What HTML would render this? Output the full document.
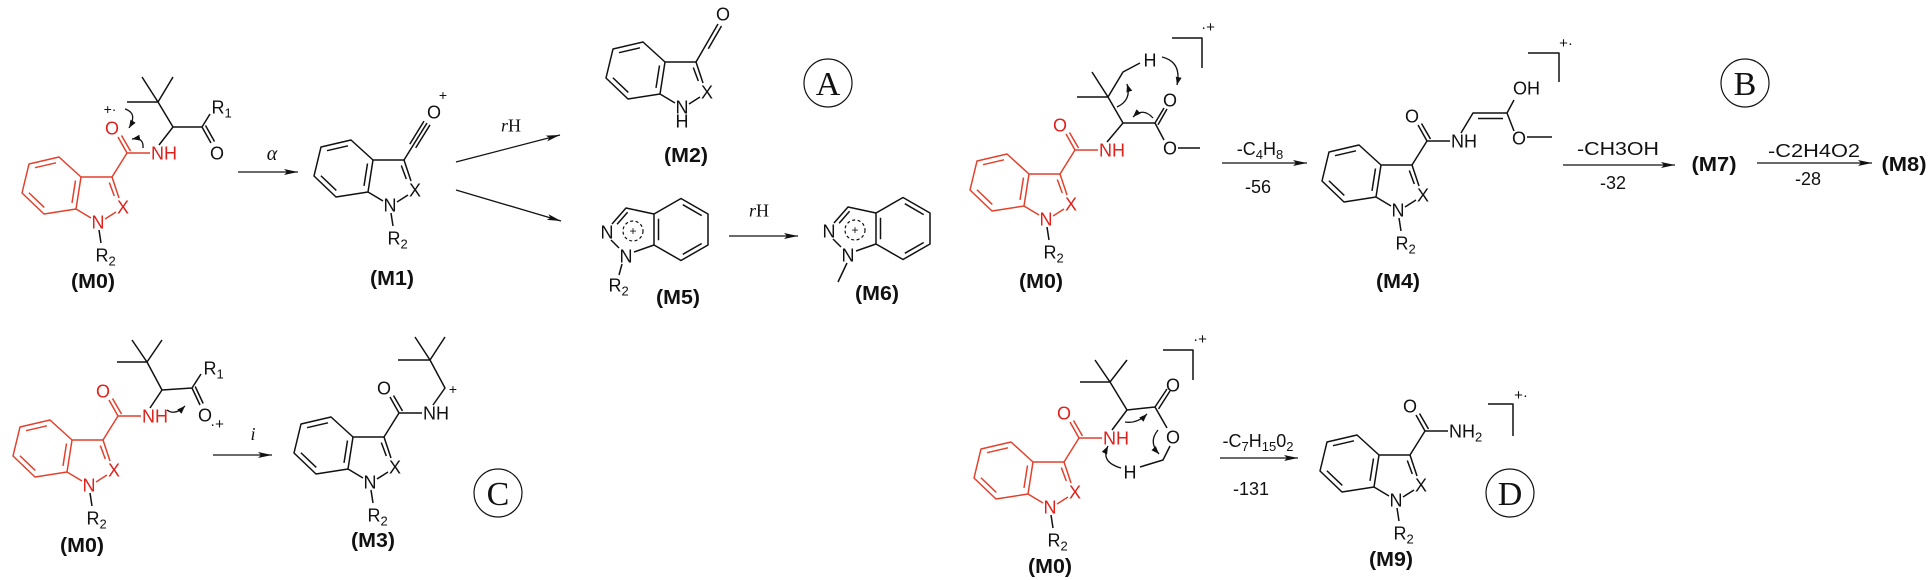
<!DOCTYPE html>
<html><head><meta charset="utf-8">
<style>
html,body{margin:0;padding:0;background:#fff;}
svg{display:block;}
.t{font-family:"Liberation Sans",Arial,sans-serif;font-size:18px;text-anchor:middle;fill:#111;}
.st{text-anchor:start;}
.r{fill:#e0201b;}
.b{font-weight:bold;font-size:20px;}
.s{font-family:"Liberation Serif","Times New Roman",serif;}
.ln{fill:none;stroke:#111;stroke-width:1.5;stroke-linejoin:round;}
.rl{fill:none;stroke:#e2412d;stroke-width:1.5;stroke-linejoin:round;}
.ar{fill:none;stroke:#111;stroke-width:1.3;}
</style></head>
<body>
<svg width="1932" height="580" viewBox="0 0 1932 580" xmlns="http://www.w3.org/2000/svg">
<defs>
<marker id="ah" viewBox="0 0 14 6" refX="14" refY="3" markerWidth="14" markerHeight="6" orient="auto" markerUnits="userSpaceOnUse"><path d="M0,0 L14,3 L0,6 L3,3 Z" fill="#111"/></marker>
<marker id="ch" viewBox="0 0 8 6" refX="8" refY="3" markerWidth="8" markerHeight="6" orient="auto" markerUnits="userSpaceOnUse"><path d="M0,0 L8,3 L0,6 Z" fill="#111"/></marker>
<g id="core"><path d="M0,0 L-22,-20 L-52,-13 L-59,16 L-37,37 L-5,32 Z M-25,-14.2 L-46,-9.3 M-52.1,15.75 L-36.7,30.45 M-9,25.9 L-5.5,3.5 M0,0 L31,0 L38,21 M28.3,5.5 L33.3,19 M-5,32 L10,41 M24,42 L35,35"/></g>
<g id="amide"><path d="M31,0 L46,-24 L37,-40 M49.5,-26 L40.5,-41.5 M46,-24 L69,-24"/></g>
<g id="nr"><path d="M18,53 L20,66"/></g>
<g id="pyr"><path d="M654,214 L681,198.5 L708,214 L708,245 L681,260.5 L654,245 Z M682.8,204.7 L701.7,215.6 M701.7,243.5 L682.8,254.3 M658.5,218.7 L658.5,240.3 M654,214 L626,208 L612,224 M627.6,212.2 L617.1,224.2 M654,245 L634,252 M611,240 L619,248"/><circle cx="633" cy="231" r="10" stroke-dasharray="3,2.5" stroke-width="1.2"/></g>
</defs>

<!-- ===== Panel A ===== -->
<use href="#core" class="rl" transform="translate(81,177)"/>
<use href="#amide" class="rl" transform="translate(81,177)"/>
<use href="#nr" class="ln" transform="translate(81,177)"/>
<path class="ln" d="M159,145 L173,127 L158,102 L127,102 M158,102 L142,77 M158,102 L173,77 M173,127 L202,127 L210,114 M202,127 L211,143 M205.5,125.5 L214.5,141.5"/>
<text class="t r" x="98" y="228.5">N</text>
<text class="t r" x="123" y="213.5">X</text>
<text class="t st" x="95.5" y="261.5">R<tspan font-size="13" dy="4">2</tspan></text>
<text class="t r" x="112" y="134.5">O</text>
<text class="t r st" x="151" y="159.5">NH</text>
<text class="t st" x="211.5" y="113.5">R<tspan font-size="13" dy="4">1</tspan></text>
<text class="t" x="217" y="159.5">O</text>
<text class="t" x="110" y="114" style="font-size:14px">+·</text>
<path class="ar" d="M125,109 Q138,113 129,128" marker-end="url(#ch)"/>
<path class="ar" d="M143,148 Q144,137 132,139" marker-end="url(#ch)"/>
<text class="t b" x="93" y="288" textLength="44" lengthAdjust="spacingAndGlyphs">(M0)</text>

<line class="ar" x1="238" y1="172" x2="298" y2="172" marker-end="url(#ah)"/>
<text class="t s" x="272" y="160" style="font-size:20px" font-style="italic">α</text>

<!-- M1 -->
<use href="#core" class="ln" transform="translate(373,160)"/>
<use href="#nr" class="ln" transform="translate(373,160)"/>
<path class="ln" d="M404,160 L427,123 M415.7,147.9 L430,124.9 M409.8,144.1 L424,121.1"/>
<text class="t" x="390" y="211.5">N</text>
<text class="t" x="415" y="196.5">X</text>
<text class="t st" x="387.5" y="244.5">R<tspan font-size="13" dy="4">2</tspan></text>
<text class="t" x="434" y="118.5">O</text>
<text class="t" x="443" y="100" style="font-size:14px">+</text>
<text class="t b" x="392" y="285" textLength="44" lengthAdjust="spacingAndGlyphs">(M1)</text>

<line class="ar" x1="456" y1="162" x2="560" y2="135" marker-end="url(#ah)"/>
<line class="ar" x1="456" y1="190" x2="561" y2="221" marker-end="url(#ah)"/>
<text class="t s" x="511" y="131.5" style="font-size:18px"><tspan font-style="italic">r</tspan>H</text>

<!-- M2 -->
<use href="#core" class="ln" transform="translate(665,62)"/>
<path class="ln" d="M696,62 L718,24 M708.3,48.8 L721.5,26"/>
<text class="t" x="682" y="113.5">N</text>
<text class="t" x="682" y="127.5">H</text>
<text class="t" x="707" y="98.5">X</text>
<text class="t" x="723" y="20.5">O</text>
<text class="t b" x="686" y="162" textLength="44" lengthAdjust="spacingAndGlyphs">(M2)</text>

<!-- M5 -->
<use href="#pyr" class="ln"/>
<path class="ln" d="M622,264 L619,275"/>
<text class="t" x="607" y="238.5">N</text>
<text class="t" x="626" y="262.5">N</text>
<text class="t" x="633" y="235" style="font-size:12px">+</text>
<text class="t st" x="608.5" y="291.5">R<tspan font-size="13" dy="4">2</tspan></text>
<text class="t b" x="678" y="304" textLength="44" lengthAdjust="spacingAndGlyphs">(M5)</text>

<line class="ar" x1="729" y1="236" x2="798" y2="236" marker-end="url(#ah)"/>
<text class="t s" x="759" y="216.5" style="font-size:18px"><tspan font-style="italic">r</tspan>H</text>

<!-- M6 -->
<use href="#pyr" class="ln" transform="translate(222,-1)"/>
<path class="ln" d="M847,263 L838,282"/>
<text class="t" x="829" y="237.5">N</text>
<text class="t" x="848" y="261.5">N</text>
<text class="t" x="855" y="234" style="font-size:12px">+</text>
<text class="t b" x="877" y="300" textLength="44" lengthAdjust="spacingAndGlyphs">(M6)</text>

<circle cx="828" cy="83" r="24" fill="none" stroke="#111" stroke-width="1.2"/>
<text class="t s" x="828" y="95" style="font-size:34px">A</text>

<!-- ===== Panel B ===== -->
<use href="#core" class="rl" transform="translate(1029,174)"/>
<use href="#amide" class="rl" transform="translate(1029,174)"/>
<use href="#nr" class="ln" transform="translate(1029,174)"/>
<path class="ln" d="M1107,142 L1123,123 L1108,97 L1077,97 M1108,97 L1092,72 M1108,97 L1123,72 L1140,63 M1123,123 L1155,123 L1164,108 M1158,124.7 L1167,109 M1155,123 L1164,140 M1178,148 L1200,148"/>
<text class="t r" x="1046" y="225.5">N</text>
<text class="t r" x="1071" y="210.5">X</text>
<text class="t st" x="1043.5" y="258.5">R<tspan font-size="13" dy="4">2</tspan></text>
<text class="t r" x="1060" y="131.5">O</text>
<text class="t r st" x="1099" y="156.5">NH</text>
<text class="t" x="1150" y="66.5">H</text>
<text class="t" x="1170" y="106.5">O</text>
<text class="t" x="1170" y="154.5">O</text>
<path class="ar" d="M1117,107 Q1132,100 1127,84" marker-end="url(#ch)"/>
<path class="ar" d="M1153,118 Q1143,107 1133,117" marker-end="url(#ch)"/>
<path class="ar" d="M1162,57 Q1182,62 1177,85" marker-end="url(#ch)"/>
<path class="ln" d="M1172,38 H1202 V68"/>
<text class="t" x="1208" y="32" style="font-size:15px">·+</text>
<text class="t b" x="1041" y="288" textLength="44" lengthAdjust="spacingAndGlyphs">(M0)</text>

<line class="ar" x1="1222" y1="163" x2="1307" y2="163" marker-end="url(#ah)"/>
<text class="t" x="1260" y="155">-C<tspan font-size="13" dy="4">4</tspan><tspan dy="-4">H</tspan><tspan font-size="13" dy="4">8</tspan></text>
<text class="t" x="1258" y="193">-56</text>

<!-- M4 -->
<use href="#core" class="ln" transform="translate(1381,165)"/>
<use href="#amide" class="ln" transform="translate(1381,165)"/>
<use href="#nr" class="ln" transform="translate(1381,165)"/>
<path class="ln" d="M1461,133 L1473,113 L1507,113 L1514,100 M1478,118.5 L1503,118.5 M1507,113 L1514,131 M1527,137 L1552,137"/>
<text class="t" x="1398" y="216.5">N</text>
<text class="t" x="1423" y="201.5">X</text>
<text class="t st" x="1395.5" y="249.5">R<tspan font-size="13" dy="4">2</tspan></text>
<text class="t" x="1412" y="122.5">O</text>
<text class="t st" x="1451" y="147.5">NH</text>
<text class="t st" x="1513" y="94.5">OH</text>
<text class="t" x="1519" y="144.5">O</text>
<path class="ln" d="M1528,53 H1559 V82"/>
<text class="t" x="1566" y="48" style="font-size:15px">+·</text>
<text class="t b" x="1398" y="288" textLength="44" lengthAdjust="spacingAndGlyphs">(M4)</text>

<line class="ar" x1="1563" y1="165" x2="1675" y2="165" marker-end="url(#ah)"/>
<text class="t" x="1618" y="155" textLength="82" lengthAdjust="spacingAndGlyphs">-CH3OH</text>
<text class="t" x="1613" y="189">-32</text>
<text class="t b" x="1714" y="171" textLength="45" lengthAdjust="spacingAndGlyphs">(M7)</text>
<line class="ar" x1="1757" y1="163" x2="1872" y2="163" marker-end="url(#ah)"/>
<text class="t" x="1814" y="157" textLength="92" lengthAdjust="spacingAndGlyphs">-C2H4O2</text>
<text class="t" x="1808" y="185">-28</text>
<text class="t b" x="1904" y="171" textLength="45" lengthAdjust="spacingAndGlyphs">(M8)</text>

<circle cx="1745" cy="83" r="24" fill="none" stroke="#111" stroke-width="1.2"/>
<text class="t s" x="1745" y="95" style="font-size:34px">B</text>

<!-- ===== Panel C ===== -->
<use href="#core" class="rl" transform="translate(72,440)"/>
<use href="#amide" class="rl" transform="translate(72,440)"/>
<use href="#nr" class="ln" transform="translate(72,440)"/>
<path class="ln" d="M150,408 L162,390 L147,362 L117,362 M147,362 L132,340 M147,362 L162,340 M162,390 L192,388 L201,374 M192,388 L200,405 M195.2,386.5 L203.2,403.5"/>
<text class="t r" x="89" y="491.5">N</text>
<text class="t r" x="114" y="476.5">X</text>
<text class="t st" x="86.5" y="524.5">R<tspan font-size="13" dy="4">2</tspan></text>
<text class="t r" x="103" y="397.5">O</text>
<text class="t r st" x="142" y="422.5">NH</text>
<text class="t st" x="203.5" y="374.5">R<tspan font-size="13" dy="4">1</tspan></text>
<text class="t" x="205" y="421.5">O</text>
<text class="t" x="217" y="429" style="font-size:15px">·+</text>
<path class="ar" d="M167,410 Q175,416 185,406" marker-end="url(#ch)"/>
<text class="t b" x="82" y="552" textLength="44" lengthAdjust="spacingAndGlyphs">(M0)</text>

<line class="ar" x1="213" y1="455" x2="272" y2="455" marker-end="url(#ah)"/>
<text class="t s" x="253" y="440" style="font-size:18px" font-style="italic">i</text>

<!-- M3 -->
<use href="#core" class="ln" transform="translate(353,437)"/>
<use href="#amide" class="ln" transform="translate(353,437)"/>
<use href="#nr" class="ln" transform="translate(353,437)"/>
<path class="ln" d="M433,405 L445,388 L430,360 L398,360 M430,360 L415,337 M430,360 L445,337"/>
<text class="t" x="370" y="488.5">N</text>
<text class="t" x="395" y="473.5">X</text>
<text class="t st" x="367.5" y="521.5">R<tspan font-size="13" dy="4">2</tspan></text>
<text class="t" x="384" y="394.5">O</text>
<text class="t st" x="423" y="419.5">NH</text>
<text class="t" x="453" y="394" style="font-size:14px">+</text>
<text class="t b" x="373" y="547" textLength="44" lengthAdjust="spacingAndGlyphs">(M3)</text>

<circle cx="498" cy="493" r="24" fill="none" stroke="#111" stroke-width="1.2"/>
<text class="t s" x="498" y="505" style="font-size:34px">C</text>

<!-- ===== Panel D ===== -->
<use href="#core" class="rl" transform="translate(1033,462)"/>
<use href="#amide" class="rl" transform="translate(1033,462)"/>
<use href="#nr" class="ln" transform="translate(1033,462)"/>
<path class="ln" d="M1112,430 L1127,410 L1110,382 L1080,382 M1110,382 L1095,360 M1110,382 L1127,360 M1127,410 L1155,407 L1167,389 M1158.5,409 L1170,391 M1155,407 L1167,428 M1170,446 L1163,460 L1140,467"/>
<text class="t r" x="1050" y="513.5">N</text>
<text class="t r" x="1075" y="498.5">X</text>
<text class="t st" x="1047.5" y="546.5">R<tspan font-size="13" dy="4">2</tspan></text>
<text class="t r" x="1064" y="419.5">O</text>
<text class="t r st" x="1103" y="444.5">NH</text>
<text class="t" x="1173" y="391.5">O</text>
<text class="t" x="1173" y="443.5">O</text>
<text class="t" x="1130" y="478.5">H</text>
<path class="ar" d="M1121,468 Q1100,462 1108,446" marker-end="url(#ch)"/>
<path class="ar" d="M1125,422 Q1137,424 1147,414" marker-end="url(#ch)"/>
<path class="ar" d="M1158,430 Q1148,442 1159,454" marker-end="url(#ch)"/>
<path class="ln" d="M1163,350 H1193 V380"/>
<text class="t" x="1200" y="344" style="font-size:15px">·+</text>
<text class="t b" x="1050" y="573" textLength="44" lengthAdjust="spacingAndGlyphs">(M0)</text>

<line class="ar" x1="1220" y1="458" x2="1298" y2="458" marker-end="url(#ah)"/>
<text class="t" x="1258" y="447">-C<tspan font-size="13" dy="4">7</tspan><tspan dy="-4">H</tspan><tspan font-size="13" dy="4">15</tspan><tspan dy="-4">0</tspan><tspan font-size="13" dy="4">2</tspan></text>
<text class="t" x="1251" y="495">-131</text>

<!-- M9 -->
<use href="#core" class="ln" transform="translate(1379,455)"/>
<use href="#amide" class="ln" transform="translate(1379,455)"/>
<use href="#nr" class="ln" transform="translate(1379,455)"/>
<text class="t" x="1396" y="506.5">N</text>
<text class="t" x="1421" y="491.5">X</text>
<text class="t st" x="1393.5" y="539.5">R<tspan font-size="13" dy="4">2</tspan></text>
<text class="t" x="1410" y="412.5">O</text>
<text class="t st" x="1449" y="437.5">NH<tspan font-size="13" dy="4">2</tspan></text>
<path class="ln" d="M1488,404 H1513 V436"/>
<text class="t" x="1521" y="400" style="font-size:15px">+·</text>
<text class="t b" x="1391" y="566" textLength="44" lengthAdjust="spacingAndGlyphs">(M9)</text>

<circle cx="1510" cy="493" r="24" fill="none" stroke="#111" stroke-width="1.2"/>
<text class="t s" x="1510" y="505" style="font-size:34px">D</text>
</svg>
</body></html>
